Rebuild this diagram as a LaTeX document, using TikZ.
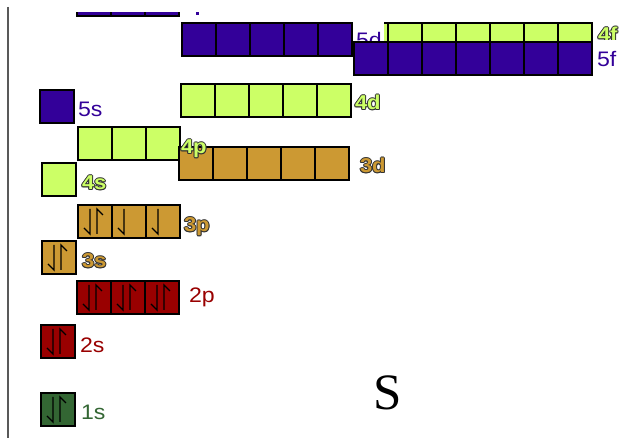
\documentclass[tikz,border=0pt]{standalone}
\usepackage{fontspec}
\setmainfont{Liberation Sans}
\newfontfamily\labfont[FakeStretch=1.1]{Liberation Sans}
\newfontfamily\serifS{Liberation Serif}
\definecolor{purp}{HTML}{330099}
\definecolor{lgreen}{HTML}{CCFF66}
\definecolor{tanc}{HTML}{CC9933}
\definecolor{dred}{HTML}{990000}
\definecolor{dgreen}{HTML}{336633}
\tikzset{
  orb/.style={draw=black, line width=2pt, minimum width=34pt, minimum height=33pt,
    inner sep=0pt, outer sep=0pt, anchor=north west},
  lab/.style={anchor=base west, inner sep=0pt, outer sep=0pt,
    font=\labfont\fontsize{21}{21}\selectfont},
  olabst/.style={anchor=base west, inner sep=0pt, outer sep=0pt,
    font=\labfont\bfseries\fontsize{20}{20}\selectfont},
  harp/.style={draw=black, line width=1.4pt},
  axisline/.style={draw=black!65, line width=1.3pt}
}
\newcommand{\orbrow}[5]{%
  \foreach \i in {1,...,#4} {\node[orb, fill=#5] (#1\i) at ({#2+(\i-1)*34}, #3) {};}}
\newcommand{\olab}[5]{% name, x, y, colour, text
  \foreach \dx/\dy in {1/0,-1/0,0/1,0/-1,0.7/0.7,-0.7/0.7,0.7/-0.7,-0.7/-0.7}
    {\node[olabst, text=black!80, xshift=\dx pt, yshift=\dy pt] at (#2,#3) {#5};}
  \node[olabst, text=#4] (#1) at (#2,#3) {#5};}
\newcommand{\harpdn}[1]{\draw[harp] ([xshift=12pt,yshift=-4pt]#1.north west) -- ++(0,25) -- ++(-6,-6);}
\newcommand{\harpup}[1]{\draw[harp] ([xshift=19pt,yshift=-29pt]#1.north west) -- ++(0,-25) -- ++(6,6);}
\begin{document}
\begin{tikzpicture}[x=1pt, y=-1pt]
\useasboundingbox (0,0) rectangle (622,438);
\fill[white] (0,0) rectangle (622,438);
% axis
\coordinate (axtop) at (8,7);
\coordinate (axbot) at (8,438);
\draw[axisline] (axtop) -- (axbot);
% top partial row (6p)
\begin{scope}
  \clip (70,13) rectangle (200,20);
  \orbrow{sixp}{77}{-17}{3}{purp}
\end{scope}
\fill[purp] (196,12.5) rectangle (199,15);
% 5d and 4f
\orbrow{fived}{182}{23}{5}{purp}
\orbrow{fourf}{354}{23}{7}{lgreen}
\fill[white] (353,21) rectangle (384,41);
\node[lab, text=purp] (l5d) at (356,48) {5d};
\olab{l4f}{598}{42}{lgreen}{4f}
\fill[white] (596,40) rectangle (622,72);
\orbrow{fivef}{354}{42}{7}{purp}
\node[lab, text=purp] (l5f) at (597,67) {5f};
% 4d
\orbrow{fourd}{181}{84}{5}{lgreen}
\olab{l4d}{355}{110}{lgreen}{4d}
% 5s
\node[orb, fill=purp] (fives) at (40,90) {};
\node[lab, text=purp] (l5s) at (78,117) {5s};
% 4p and 3d
\orbrow{fourp}{78}{127}{3}{lgreen}
\orbrow{threed}{179}{147}{5}{tanc}
\olab{l4p}{181}{154}{lgreen}{4p}
\olab{l3d}{360}{173}{tanc}{3d}
% 4s
\node[orb, fill=lgreen] (fours) at (42,163) {};
\olab{l4s}{82}{190}{lgreen}{4s}
% 3p
\orbrow{threep}{78}{205}{3}{tanc}
\harpdn{threep1}\harpup{threep1}
\harpdn{threep2}
\harpdn{threep3}
\olab{l3p}{184}{232}{tanc}{3p}
% 3s
\node[orb, fill=tanc] (threes) at (42,241) {};
\harpdn{threes}\harpup{threes}
\olab{l3s}{82}{268}{tanc}{3s}
% 2p
\orbrow{twop}{77}{281}{3}{dred}
\harpdn{twop1}\harpup{twop1}
\harpdn{twop2}\harpup{twop2}
\harpdn{twop3}\harpup{twop3}
\node[lab, text=dred] (l2p) at (189,303) {2p};
% 2s
\node[orb, fill=dred] (twos) at (41,325) {};
\harpdn{twos}\harpup{twos}
\node[lab, text=dred] (l2s) at (80,353) {2s};
% 1s
\node[orb, fill=dgreen] (ones) at (41,393) {};
\harpdn{ones}\harpup{ones}
\node[lab, text=dgreen] (l1s) at (81,420) {1s};
% element symbol
\node[anchor=base, inner sep=0pt, font=\serifS\fontsize{51}{51}\selectfont] (elem) at (388,410) {S};
\end{tikzpicture}
\end{document}
